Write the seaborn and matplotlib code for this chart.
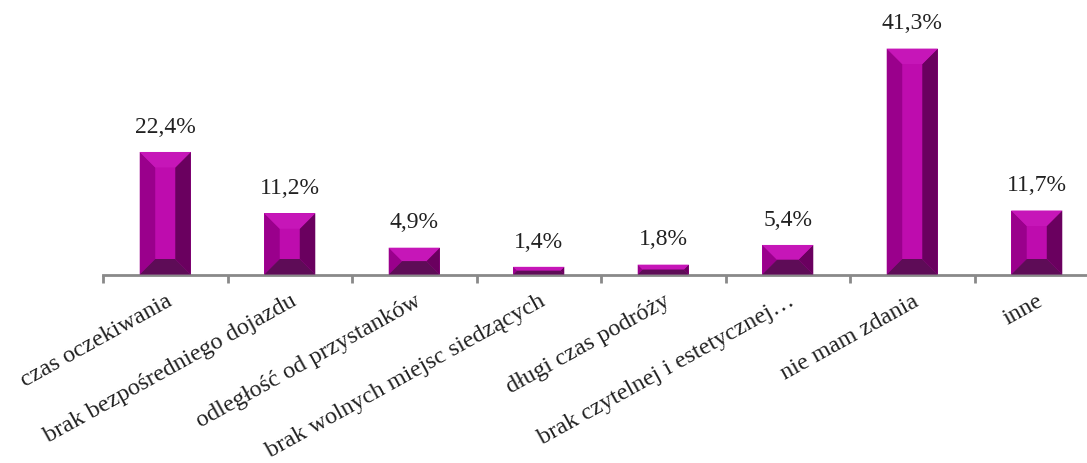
import numpy as np
import pandas as pd
import matplotlib
matplotlib.use("Agg")
import matplotlib.pyplot as plt
from matplotlib.patches import Polygon
from matplotlib.ticker import FixedLocator
import seaborn as sns

categories = ["czas oczekiwania", "brak bezpośredniego dojazdu", "odległość od przystanków",
              "brak wolnych miejsc siedzących", "długi czas podróży",
              "brak czytelnej i estetycznej…", "nie mam zdania", "inne"]
values = [22.4, 11.2, 4.9, 1.4, 1.8, 5.4, 41.3, 11.7]
value_labels = ["22,4%", "11,2%", "4,9%", "1,4%", "1,8%", "5,4%", "41,3%", "11,7%"]

C_CENTER = "#BE0CAE"
C_TOP = "#C616B8"
C_LEFT = "#9A008C"
C_RIGHT = "#6A005F"
C_BOTTOM = "#5E0C57"
AXIS_GRAY = "#898989"

sns.set_theme(style="white")
plt.rcParams["font.family"] = ["Liberation Serif", "DejaVu Serif"]

df = pd.DataFrame({"cat": categories, "val": values})

fig = plt.figure(figsize=(10.87, 4.64), dpi=100)
ax = fig.add_axes([103 / 1087, (464 - 275.5) / 464, 996 / 1087, 273.5 / 464])

sns.barplot(data=df, x="cat", y="val", ax=ax, color=C_CENTER, saturation=1,
            width=0.41, linewidth=0, order=categories)
ax.set_xlim(-0.5, len(categories) - 0.5)
ax.set_ylim(0, 50)

inv = ax.transData.inverted()
for p in list(ax.patches):
    bb = p.get_window_extent()
    x0, y0, x1, y1 = bb.x0, bb.y0, bb.x1, bb.y1
    b = min(15.5, (y1 - y0) / 2, (x1 - x0) / 2)
    polys = [
        ([(x0, y0), (x0 + b, y0 + b), (x0 + b, y1 - b), (x0, y1)], C_LEFT),
        ([(x1, y0), (x1 - b, y0 + b), (x1 - b, y1 - b), (x1, y1)], C_RIGHT),
        ([(x0, y1), (x0 + b, y1 - b), (x1 - b, y1 - b), (x1, y1)], C_TOP),
        ([(x0, y0), (x0 + b, y0 + b), (x1 - b, y0 + b), (x1, y0)], C_BOTTOM),
    ]
    for pts, col in polys:
        ax.add_patch(Polygon(inv.transform(np.array(pts)), closed=True,
                             facecolor=col, edgecolor="none", zorder=3))

for i, (v, lab) in enumerate(zip(values, value_labels)):
    ax.annotate(lab, (i, v), xytext=(0, 11), textcoords="offset points",
                ha="center", va="bottom", fontsize=17, color="#222222",
                annotation_clip=False)

for s in ["left", "top", "right"]:
    ax.spines[s].set_visible(False)
ax.spines["bottom"].set_color(AXIS_GRAY)
ax.spines["bottom"].set_linewidth(2)
ax.set_yticks([])
ax.set_xlabel("")
ax.set_ylabel("")
ax.xaxis.set_minor_locator(FixedLocator(np.arange(-0.5, len(categories), 1.0)))
ax.tick_params(axis="x", which="major", length=0, pad=11)
ax.tick_params(axis="x", which="minor", length=6, width=2, color=AXIS_GRAY, direction="out")
ax.xaxis.set_tick_params(which="minor", bottom=True)
ax.set_xticks(range(len(categories)))
ax.set_xticklabels(categories, rotation=29, ha="right", va="top",
                   rotation_mode="anchor", fontsize=17.5, color="#222222")

fig.savefig("out.png", dpi=100)
